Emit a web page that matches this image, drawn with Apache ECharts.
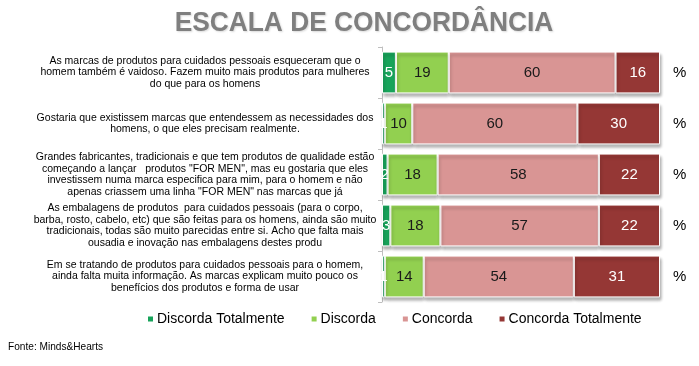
<!DOCTYPE html>
<html><head><meta charset="utf-8">
<script src="https://cdn.jsdelivr.net/npm/echarts@6/dist/echarts.min.js"></script>
<style>html,body{margin:0;padding:0;background:#fff}#c{width:699px;height:366px}</style>
</head><body><div id="c"></div>
<script>
const chartTitle = 'ESCALA DE CONCORDÂNCIA';
const sourceText = 'Fonte: Minds&Hearts';
const categories = [
  'As marcas de produtos para cuidados pessoais esqueceram que o\nhomem também é vaidoso. Fazem muito mais produtos para mulheres\ndo que para os homens',
  'Gostaria que existissem marcas que entendessem as necessidades dos\nhomens, o que eles precisam realmente.',
  'Grandes fabricantes, tradicionais e que tem produtos de qualidade estão\ncomeçando a lançar   produtos "FOR MEN", mas eu gostaria que eles\ninvestissem numa marca especifica para mim, para o homem e não\napenas criassem uma linha "FOR MEN" nas marcas que já',
  'As embalagens de produtos  para cuidados pessoais (para o corpo,\nbarba, rosto, cabelo, etc) que são feitas para os homens, ainda são muito\ntradicionais, todas são muito parecidas entre si. Acho que falta mais\nousadia e inovação nas embalagens destes produ',
  'Em se tratando de produtos para cuidados pessoais para o homem,\nainda falta muita informação. As marcas explicam muito pouco os\nbenefícios dos produtos e forma de usar'
];
const seriesNames = ['Discorda Totalmente', 'Discorda', 'Concorda', 'Concorda Totalmente'];
const discordaTotalmente = [5, 1, 2, 3, 1];
const discorda = [19, 10, 18, 18, 14];
const concorda = [60, 60, 58, 57, 54];
const concordaTotalmente = [16, 30, 22, 22, 31];

const allSeries = [discordaTotalmente, discorda, concorda, concordaTotalmente];
const colors = ['#17a35a', '#92d050', '#d99594', '#953735'];
const labelColors = ['#ffffff', '#1a1a1a', '#1a1a1a', '#ffffff'];
const rowTotals = categories.map((_, i) => allSeries.reduce((s, arr) => s + arr[i], 0));

const chart = echarts.init(document.getElementById('c'));
chart.setOption({
  animation: false,
  textStyle: { fontFamily: 'Liberation Sans, Arial, sans-serif' },
  graphic: [
    { type: 'text', x: 364, y: 23, scaleX: 0.94,
      style: { text: chartTitle, align: 'center', verticalAlign: 'middle',
        fontFamily: 'Liberation Sans', fontWeight: 'bold', fontSize: 28, fill: '#7f7f7f',
        textShadowColor: 'rgba(0,0,0,0.15)', textShadowBlur: 2, textShadowOffsetX: 1, textShadowOffsetY: 1 } },
    { type: 'text', x: 8, y: 347, scaleX: 0.92,
      style: { text: sourceText, verticalAlign: 'middle', fontFamily: 'Liberation Sans', fontSize: 11, fill: '#000' } }
  ],
  legend: {
    top: 307, left: 141, itemWidth: 7, itemHeight: 7, itemGap: 25, icon: 'rect',
    textStyle: { fontSize: 14, color: '#000', padding: [0, 0, 0, -2] },
    data: seriesNames
  },
  grid: { left: 382, right: 39, top: 47, bottom: 64, containLabel: false },
  xAxis: { type: 'value', min: 0, max: 100, show: false },
  yAxis: [
    { type: 'category', inverse: true, data: categories,
      axisLine: { show: true, lineStyle: { color: '#bfbfbf' } },
      axisTick: { show: true, length: 4, lineStyle: { color: '#bfbfbf' } },
      axisLabel: { align: 'center', margin: 177, fontSize: 10.5, lineHeight: 11.7, color: '#000' } },
    { type: 'category', inverse: true, data: categories, position: 'right',
      axisLine: { show: false }, axisTick: { show: false },
      axisLabel: { formatter: () => '%', margin: 13, fontSize: 15, color: '#000' } }
  ],
  series: allSeries.map((vals, k) => ({
    name: seriesNames[k], type: 'bar', stack: 'total', barCategoryGap: '18%',
    data: vals.map((v, i) => v / rowTotals[i] * 100),
    itemStyle: { color: colors[k], borderColor: '#ffffff', borderWidth: 1,
      shadowColor: 'rgba(0,0,0,0.3)', shadowOffsetY: 3, shadowOffsetX: 1, shadowBlur: 3 },
    label: { show: true, position: 'inside', fontSize: 15, color: labelColors[k],
      formatter: p => String(vals[p.dataIndex]) }
  }))
});
</script></body></html>
